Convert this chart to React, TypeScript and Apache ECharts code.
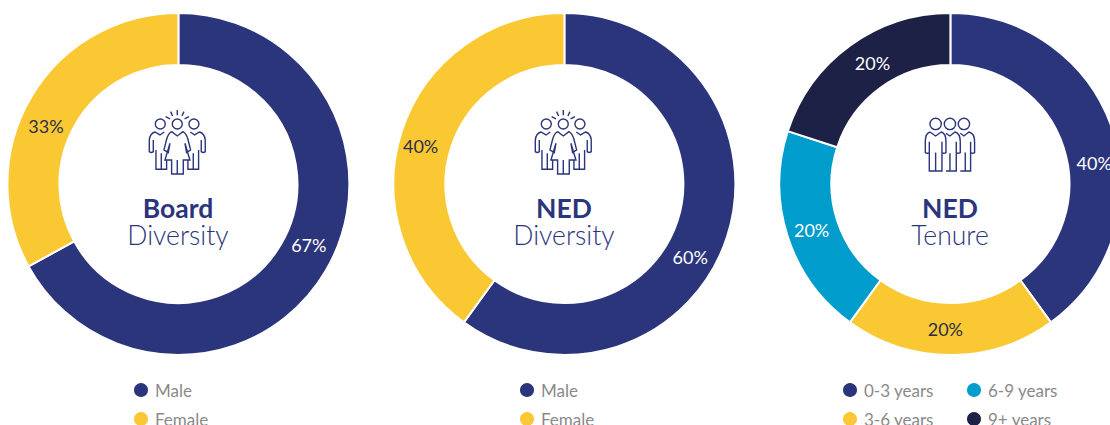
import React, { useEffect, useRef } from "react";
import * as echarts from "echarts";

const boardCategories = ["Male", "Female"];
const boardValues = [67, 33];
const nedDiversityCategories = ["Male", "Female"];
const nedDiversityValues = [60, 40];
const tenureCategories = ["0-3 years", "3-6 years", "6-9 years", "9+ years"];
const tenureValues = [40, 20, 20, 20];

const NAVY = "#2b357c";
const YELLOW = "#fac832";
const BLUE = "#009dcc";
const DARK = "#1d2145";
const FONT = "Lato, 'Noto Sans', sans-serif";

const head = (x: number, y: number, r: number) =>
  `M${x - r} ${y}a${r} ${r} 0 1 0 ${2 * r} 0a${r} ${r} 0 1 0 ${-2 * r} 0`;

const groupIcon = [
  head(121, 72, 15), head(172, 72, 15), head(222, 72, 15),
  "M172 30L172 46M152 35L158 48M137 50L150 57M192 35L186 48M207 50L194 57",
  "M133 96L120 105L105 96Q90 100 88 120L88 155Q94 160 100 155L100 120M108 150L108 208L140 208L140 178M124 160L124 208",
  "M211 96L224 105L239 96Q254 100 256 120L256 155Q250 160 244 155L244 120M236 150L236 208L204 208L204 178M220 160L220 208",
  "M155 95L172 108L189 95Q199 100 204 118L212 150L200 158L195 130L210 180L190 180L190 222L155 222L155 180L135 180L150 130L145 158L132 150L140 118Q145 100 155 95M172 180L172 222",
].join("");

const tenureIcon = [
  head(107, 72, 17), head(150, 72, 17), head(192, 72, 17),
  "M90 96L107 108L124 96Q138 100 138 125L138 158Q132 162 126 158L126 125L126 213L88 213L88 125L88 158Q82 162 76 158L76 125Q76 100 90 96M107 158L107 213",
  "M138 100L150 108L165 96Q181 100 181 125L181 158Q175 162 169 158L169 125L169 213L138 213M150 160L150 213",
  "M181 100L192 108L207 96Q224 100 224 125L224 158Q218 162 212 158L212 125L212 213L181 213M196 158L196 213",
].join("");

echarts.graphic.registerShape("groupIcon", echarts.graphic.extendPath(groupIcon as any, {}) as any);
echarts.graphic.registerShape("tenureIcon", echarts.graphic.extendPath(tenureIcon as any, {}) as any);

const labelNudges = [
  [[3, -14], [-5, 17]],
  [[-15, 27], [-3, 8]],
  [[3, 25], [-5, -3], [2, 0], [9, -1]],
];

const makeSeries = (
  index: number,
  cx: number,
  names: string[],
  values: number[],
  colors: string[],
  labelColors: string[],
) => ({
  type: "pie",
  silent: true,
  center: [cx, 184],
  radius: [119, 171],
  startAngle: 90,
  clockwise: true,
  itemStyle: { borderColor: "#fff", borderWidth: 2 },
  label: { show: true, position: "inside", formatter: "{c}%", fontSize: 18, fontWeight: 400, fontFamily: FONT },
  labelLine: { show: false },
  labelLayout: (p: any) => ({ dx: labelNudges[index][p.dataIndex][0], dy: labelNudges[index][p.dataIndex][1] }),
  data: names.map((name, i) => ({
    name,
    value: values[i],
    itemStyle: { color: colors[i] },
    label: { color: labelColors[i] },
  })),
});

const makeLegend = (left: number, data: string[]) => ({
  left,
  top: 381,
  height: 60,
  orient: "vertical",
  icon: "circle",
  itemWidth: 16,
  itemHeight: 16,
  itemGap: 11,
  padding: 0,
  selectedMode: false,
  data,
  textStyle: { color: "#8a8a8a", fontSize: 17, fontFamily: FONT, padding: [0, 0, 0, 1] },
});

const centerText = (cx: number, bold: string, light: string) => [
  {
    type: "text", x: cx, y: 208,
    style: { text: bold, fill: NAVY, font: `700 26.5px ${FONT}`, align: "center", verticalAlign: "middle" },
  },
  {
    type: "text", x: cx, y: 235,
    style: { text: light, fill: NAVY, font: `300 26.5px ${FONT}`, align: "center", verticalAlign: "middle" },
  },
];

const iconStyle = { stroke: NAVY, fill: "none", lineWidth: 4.2 };

export default function App() {
  const ref = useRef<HTMLDivElement>(null);
  useEffect(() => {
    const chart = echarts.init(ref.current!, null, { renderer: "svg" });
    chart.setOption({
      animation: false,
      backgroundColor: "#fff",
      legend: [
        makeLegend(132, boardCategories),
        makeLegend(518, nedDiversityCategories),
        makeLegend(841, tenureCategories.slice(0, 2)),
        makeLegend(965, tenureCategories.slice(2)),
      ],
      series: [
        makeSeries(0, 178.4, boardCategories, boardValues, [NAVY, YELLOW], ["#fff", "#2a2d4a"]),
        makeSeries(1, 564.4, nedDiversityCategories, nedDiversityValues, [NAVY, YELLOW], ["#fff", "#2a2d4a"]),
        makeSeries(2, 950.4, tenureCategories, tenureValues, [NAVY, YELLOW, BLUE, DARK], ["#fff", "#2a2d4a", "#fff", "#fff"]),
      ],
      graphic: [
        { type: "groupIcon", x: 120, y: 100, scaleX: 1 / 3, scaleY: 1 / 3, style: iconStyle },
        { type: "groupIcon", x: 506, y: 100, scaleX: 1 / 3, scaleY: 1 / 3, style: iconStyle },
        { type: "tenureIcon", x: 900, y: 100, scaleX: 1 / 3, scaleY: 1 / 3, style: iconStyle },
        ...centerText(178, "Board", "Diversity"),
        ...centerText(564, "NED", "Diversity"),
        ...centerText(950, "NED", "Tenure"),
      ],
    });
    return () => chart.dispose();
  }, []);
  return <div ref={ref} style={{ position: "absolute", left: 0, top: 0, width: 1110, height: 425 }} />;
}
